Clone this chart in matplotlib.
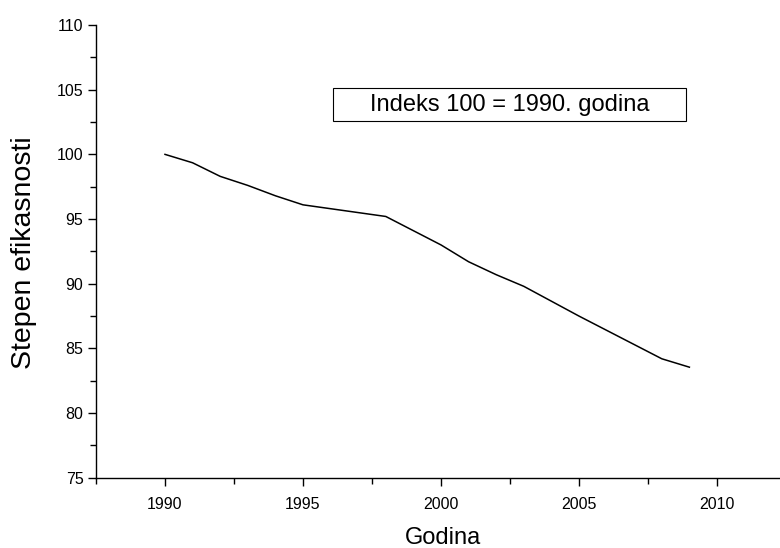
import matplotlib
matplotlib.use('Agg')
import matplotlib.pyplot as plt
from matplotlib.patches import Rectangle
from matplotlib.ticker import MultipleLocator

plt.rcParams['font.family'] = ['Liberation Sans', 'DejaVu Sans']

years = list(range(1990, 2010))
efficiency = [100.0, 99.35, 98.3, 97.6, 96.8, 96.1, 95.8, 95.5, 95.2, 94.1,
              93.0, 91.7, 90.7, 89.8, 88.65, 87.5, 86.4, 85.3, 84.2, 83.55]
x_label = 'Godina'
y_label = 'Stepen efikasnosti'
note = 'Indeks 100 = 1990. godina'

fig = plt.figure(figsize=(7.8, 5.48), dpi=100)
ax = fig.add_axes([96/780, 1-477.8/548, 690/780, (477.8-25)/548])
ax.plot(years, efficiency, color='black', lw=1.1)

ax.set_xlim(1987.5, 2012.5)
ax.set_ylim(75, 110)
ax.xaxis.set_major_locator(MultipleLocator(5))
ax.xaxis.set_minor_locator(MultipleLocator(2.5))
ax.yaxis.set_major_locator(MultipleLocator(5))
ax.yaxis.set_minor_locator(MultipleLocator(2.5))
ax.spines['top'].set_visible(False)
ax.spines['right'].set_visible(False)
for s in ('left', 'bottom'):
    ax.spines[s].set_linewidth(1.0)
ax.tick_params(which='major', direction='out', length=6, width=1.0, labelsize=11.5, pad=3)
ax.tick_params(which='minor', direction='out', length=4, width=1.0)
ax.tick_params(axis='x', pad=8)

fig.text(443/780, 1-538/548, x_label, ha='center', va='center', fontsize=17)
fig.text(24/780, 1-253/548, y_label, ha='center', va='center', fontsize=20.5, rotation=90)

fig.patches.append(Rectangle((333/780, 1-121/548), 353/780, 33/548,
                             transform=fig.transFigure, fill=False,
                             edgecolor='black', lw=0.8))
fig.text(509.5/780, 1-104.5/548, note, ha='center', va='center', fontsize=17)

fig.savefig('out.png', dpi=100)
